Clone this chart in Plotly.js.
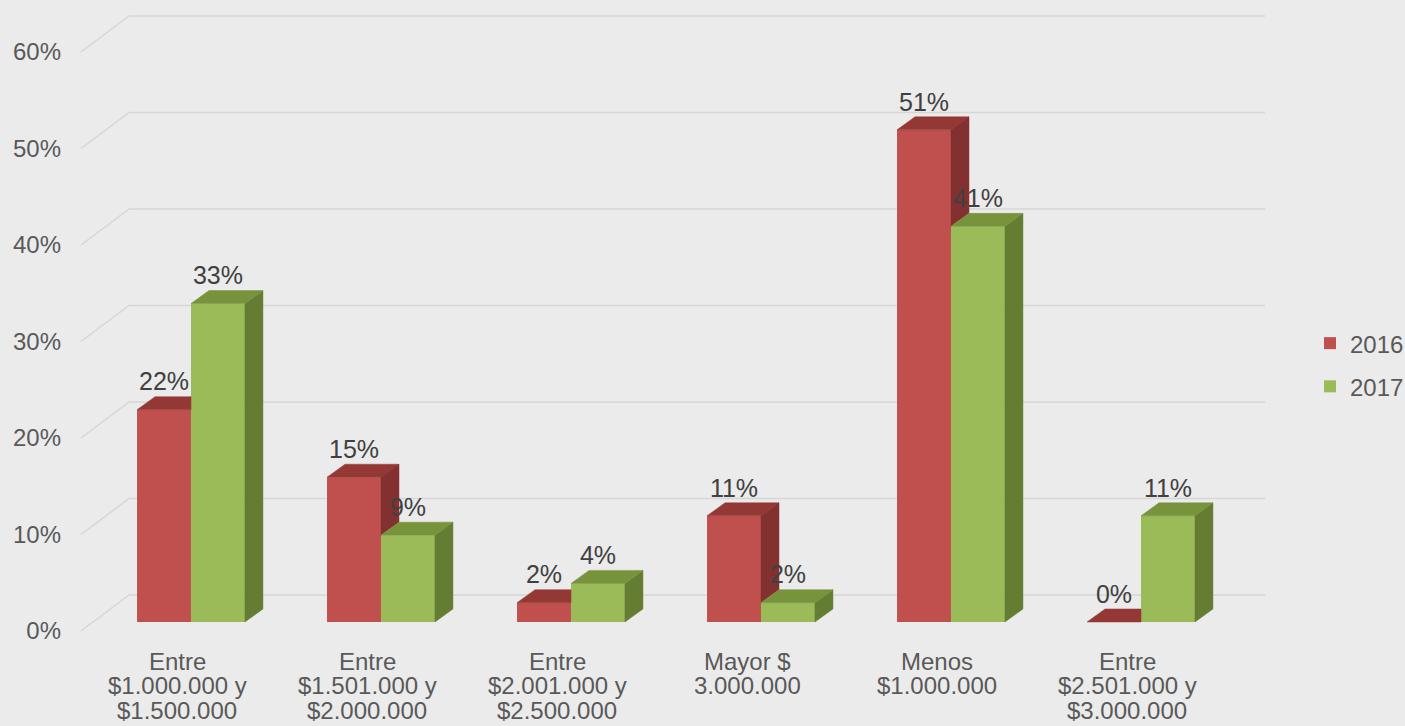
<!DOCTYPE html>
<html><head><meta charset="utf-8">
<script src="https://cdn.plot.ly/plotly-3.0.1.min.js"></script>
<style>html,body{margin:0;padding:0;background:#EBEBEB;}#chart{width:1405px;height:726px;}</style>
</head><body><div id="chart"></div>
<script>
// ---- data ----
const categories = [
  "Entre\n$1.000.000 y\n$1.500.000",
  "Entre\n$1.501.000 y\n$2.000.000",
  "Entre\n$2.001.000 y\n$2.500.000",
  "Mayor $\n3.000.000",
  "Menos\n$1.000.000",
  "Entre\n$2.501.000 y\n$3.000.000"
];
const seriesNames = ["2016", "2017"];
const values2016 = [22, 15, 2, 11, 51, 0];
const values2017 = [33, 9, 4, 2, 41, 11];
const yTickValues = [0, 10, 20, 30, 40, 50, 60];

// ---- geometry / style ----
const BAR_W = 0.284;
const DX = 0.0947, DY = 1.35;          // bar depth (x units, % units)
const WALL_DX = 0.1895, WALL_DY = 2.80; // back wall relative to bar front plane
const FLOOR_DX = -0.0632, FLOOR_DY = -0.93; // front edge relative to bar front plane
const LEFT_X = -0.579, RIGHT_X = 5.653;
const FONT = "Liberation Sans, Arial, sans-serif";
const AXIS_COLOR = "#595959", LABEL_COLOR = "#404040";
const colors = {
  "2016": {front: "#C0504D", top: "#943836", side: "#823130"},
  "2017": {front: "#9BBB59", top: "#77933C", side: "#647D33"}
};

const idx = categories.map((_, i) => i);
const traces = [];

function poly(xs, ys, color) {
  traces.push({
    type: "scatter", mode: "lines", x: xs.concat([xs[0]]), y: ys.concat([ys[0]]),
    fill: "toself", fillcolor: color, line: {color: color, width: 0.5},
    hoverinfo: "skip", showlegend: false
  });
}

// front faces as bars
traces.push({
  type: "bar", name: seriesNames[0], x: idx, y: values2016, offset: -BAR_W, width: BAR_W,
  marker: {color: colors["2016"].front, line: {width: 0}}, legendgroup: "a"
});
traces.push({
  type: "bar", name: seriesNames[1], x: idx, y: values2017, offset: 0, width: BAR_W,
  marker: {color: colors["2017"].front, line: {width: 0}}, legendgroup: "b"
});

// 2016 top + side (clipped where hidden by 2017 bar)
idx.forEach(i => {
  const v = values2016[i], g = values2017[i];
  const x0 = i - BAR_W, x1 = i;
  if (g >= v + DY) {
    poly([x0, x1, x1, x0 + DX], [v, v, v + DY, v + DY], colors["2016"].top);
  } else {
    poly([x0, x1, x1 + DX, x0 + DX], [v, v, v + DY, v + DY], colors["2016"].top);
  }
  if (v > g) {
    poly([x1, x1 + DX, x1 + DX, x1], [g, g + DY, v + DY, v], colors["2016"].side);
  }
});
// 2017 side + top
idx.forEach(i => {
  const g = values2017[i];
  const x0 = i, x1 = i + BAR_W;
  poly([x1, x1 + DX, x1 + DX, x1], [0, DY, g + DY, g], colors["2017"].side);
  poly([x0, x1, x1 + DX, x0 + DX], [g, g, g + DY, g + DY], colors["2017"].top);
});

// data labels
[[values2016, -BAR_W / 2], [values2017, BAR_W / 2]].forEach(([vals, off]) => {
  traces.push({
    type: "scatter", mode: "text", x: idx.map(i => i + off), y: vals.map(v => v + DY),
    text: vals.map(v => v + "%"), textposition: "top center",
    textfont: {family: FONT, size: 25, color: LABEL_COLOR},
    hoverinfo: "skip", showlegend: false, cliponaxis: false
  });
});

// gridlines (side wall + back wall)
const shapes = [];
yTickValues.forEach(t => {
  const xb = LEFT_X + (WALL_DX - FLOOR_DX);
  shapes.push({type: "line", layer: "below", xref: "x", yref: "y",
    x0: LEFT_X, y0: t + FLOOR_DY, x1: xb, y1: t + WALL_DY, line: {color: "#D6D6D6", width: 1.5}});
  shapes.push({type: "line", layer: "below", xref: "x", yref: "y",
    x0: xb, y0: t + WALL_DY, x1: RIGHT_X, y1: t + WALL_DY, line: {color: "#D6D6D6", width: 1.5}});
});

// category labels (one annotation per line for tight spacing)
const annotations = [];
categories.forEach((c, i) => {
  c.split("\n").forEach((line, j) => {
    annotations.push({
      xref: "x", yref: "paper", x: i + FLOOR_DX - 0.01, y: 0, yanchor: "middle", xanchor: "center",
      yshift: -(21 + 24.5 * j), text: line, showarrow: false,
      font: {family: FONT, size: 24, color: AXIS_COLOR}
    });
  });
});

const layout = {
  width: 1405, height: 726,
  paper_bgcolor: "#EBEBEB", plot_bgcolor: "#EBEBEB",
  margin: {l: 70, r: 125, t: 5, b: 86, autoexpand: false},
  barmode: "overlay",
  showlegend: true,
  xaxis: {range: [-0.6368, 5.7316], showgrid: false, zeroline: false, showticklabels: false, ticks: "", fixedrange: true},
  yaxis: {range: [-1.865, 63.94], showgrid: false, zeroline: false, tickvals: yTickValues,
    ticktext: yTickValues.map(t => t + "%"), ticks: "", ticklabelshift: 9, ticklabelstandoff: 8,
    tickfont: {family: FONT, size: 24, color: AXIS_COLOR}},
  legend: {x: 1.0248, y: 0.433, xanchor: "left", yanchor: "middle", bgcolor: "rgba(0,0,0,0)",
    font: {family: FONT, size: 24, color: AXIS_COLOR}, traceorder: "grouped", tracegroupgap: 9},
  shapes: shapes,
  annotations: annotations
};

Plotly.newPlot("chart", traces, layout, {displayModeBar: false, staticPlot: true});
</script>
</body></html>
